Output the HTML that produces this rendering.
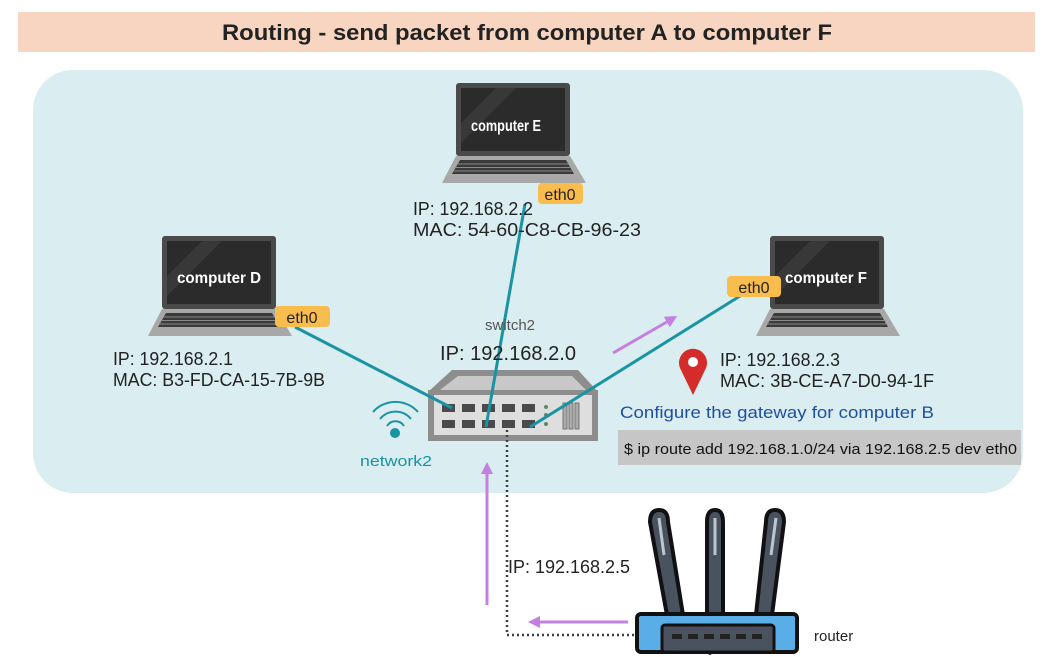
<!DOCTYPE html>
<html><head><meta charset="utf-8"><style>
html,body{margin:0;padding:0;background:#fff;width:1052px;height:657px;overflow:hidden}
svg{display:block}
text{font-family:"Liberation Sans",sans-serif}
</style></head><body>
<svg width="1052" height="657" viewBox="0 0 1052 657" xmlns="http://www.w3.org/2000/svg">
<defs>
<g id="lap">
  <rect x="0" y="0" width="114" height="73" rx="3" fill="#4a4a4a"/>
  <rect x="5" y="5" width="104" height="63" fill="#2b2b2b"/>
  <polygon points="5,40 40,5 60,5 5,60" fill="#383838"/>
  <polygon points="0,73 114,73 130,100 -14,100" fill="#a8a8a8"/>
  <polygon points="4,77 110,77 118,91 -4,91" fill="#3a3a3a"/>
  <g stroke="#8a8a8a" stroke-width="1"><line x1="2" y1="81" x2="112" y2="81"/><line x1="0" y1="84.5" x2="114" y2="84.5"/><line x1="-2" y1="88" x2="116" y2="88"/></g>
</g>
<marker id="ah" viewBox="0 0 10 10" refX="5" refY="5" markerWidth="4" markerHeight="4" orient="auto"><path d="M0,0 L10,5 L0,10 z" fill="#c47fe0"/></marker>
</defs>
<rect x="18" y="12" width="1017" height="40" fill="#f8d5c0"/>
<text x="222" y="40" font-size="22" font-weight="bold" fill="#222" textLength="610" lengthAdjust="spacingAndGlyphs">Routing - send packet from computer A to computer F</text>
<rect x="33" y="70" width="990" height="423" rx="40" fill="#daedf0"/>

<use href="#lap" x="456" y="83"/>
<text x="471" y="131" font-size="16" font-weight="bold" fill="#fff" textLength="70" lengthAdjust="spacingAndGlyphs">computer E</text>
<use href="#lap" x="162" y="236"/>
<text x="177" y="283" font-size="16" font-weight="bold" fill="#fff" textLength="84" lengthAdjust="spacingAndGlyphs">computer D</text>
<use href="#lap" x="770" y="236"/>
<text x="785" y="283" font-size="16" font-weight="bold" fill="#fff" textLength="82" lengthAdjust="spacingAndGlyphs">computer F</text>

<!-- switch -->
<polygon points="452,370 578,370 598,392 428,392" fill="#8d8d8d"/>
<polygon points="458,376 572,376 586,390 440,390" fill="#c8c8c8"/>
<rect x="428" y="390" width="170" height="51" fill="#8d8d8d"/>
<rect x="434" y="395" width="158" height="40" fill="#dedede"/>
<g fill="#4a4a4a">
<rect x="442" y="404" width="13" height="8"/><rect x="462" y="404" width="13" height="8"/><rect x="482" y="404" width="13" height="8"/><rect x="502" y="404" width="13" height="8"/><rect x="522" y="404" width="13" height="8"/>
<rect x="442" y="420" width="13" height="8"/><rect x="462" y="420" width="13" height="8"/><rect x="482" y="420" width="13" height="8"/><rect x="502" y="420" width="13" height="8"/><rect x="522" y="420" width="13" height="8"/>
</g>
<g fill="#5a8a6a"><circle cx="546" cy="407" r="2"/><circle cx="546" cy="415" r="2"/><circle cx="546" cy="424" r="2"/></g>
<g fill="#aaa" stroke="#777"><rect x="563" y="403" width="4" height="26"/><rect x="569" y="403" width="4" height="26"/><rect x="575" y="403" width="4" height="26"/></g>

<g stroke="#1a93a3" stroke-width="3" fill="none">
<line x1="295" y1="327" x2="452" y2="408"/>
<line x1="525" y1="204" x2="486" y2="427"/>
<line x1="740" y1="296" x2="530" y2="427"/>
</g>

<rect x="538" y="183" width="45" height="21" rx="4" fill="#f9bd4e"/><text x="560" y="200" text-anchor="middle" font-size="16" fill="#222">eth0</text>
<rect x="275" y="306" width="55" height="21" rx="4" fill="#f9bd4e"/><text x="302" y="323" text-anchor="middle" font-size="16" fill="#222">eth0</text>
<rect x="727" y="276" width="54" height="21" rx="4" fill="#f9bd4e"/><text x="754" y="293" text-anchor="middle" font-size="16" fill="#222">eth0</text>

<g font-size="18" fill="#222">
<text x="413" y="215" textLength="120" lengthAdjust="spacingAndGlyphs">IP: 192.168.2.2</text>
<text x="413" y="236" textLength="228" lengthAdjust="spacingAndGlyphs">MAC: 54-60-C8-CB-96-23</text>
<text x="113" y="365" textLength="120" lengthAdjust="spacingAndGlyphs">IP: 192.168.2.1</text>
<text x="113" y="386" textLength="212" lengthAdjust="spacingAndGlyphs">MAC: B3-FD-CA-15-7B-9B</text>
<text x="720" y="366" textLength="120" lengthAdjust="spacingAndGlyphs">IP: 192.168.2.3</text>
<text x="720" y="387" textLength="214" lengthAdjust="spacingAndGlyphs">MAC: 3B-CE-A7-D0-94-1F</text>
<text x="440" y="360" font-size="20" textLength="136" lengthAdjust="spacingAndGlyphs">IP: 192.168.2.0</text>
<text x="508" y="573" textLength="122" lengthAdjust="spacingAndGlyphs">IP: 192.168.2.5</text>
</g>
<text x="510" y="330" text-anchor="middle" font-size="15" fill="#555">switch2</text>
<text x="620" y="418" font-size="17" fill="#1f4fa0" textLength="314" lengthAdjust="spacingAndGlyphs">Configure the gateway for computer B</text>
<rect x="618" y="430" width="403" height="35" fill="#c6c6c6"/>
<text x="624" y="454" font-size="15" fill="#111" textLength="393" lengthAdjust="spacingAndGlyphs">$ ip route add 192.168.1.0/24 via 192.168.2.5 dev eth0</text>

<path d="M693,395 L680,368 A14,14 0 1 1 706,368 Z" fill="#d42b2b"/>
<circle cx="693" cy="362" r="5" fill="#fff"/>

<g stroke="#1a93a3" stroke-width="2" fill="none">
<path d="M373,412 A30,30 0 0 1 418,412"/><path d="M380,419 A20,20 0 0 1 411,419"/><path d="M387,426 A10,10 0 0 1 404,426"/>
</g>
<circle cx="395" cy="433" r="5" fill="#1a93a3"/>
<text x="360" y="466" font-size="15" fill="#1a93a3" textLength="72" lengthAdjust="spacingAndGlyphs">network2</text>

<g stroke="#c47fe0" stroke-width="3" fill="none">
<line x1="613" y1="353" x2="672" y2="319" marker-end="url(#ah)"/>
<line x1="487" y1="605" x2="487" y2="468" marker-end="url(#ah)"/>
<line x1="628" y1="622" x2="534" y2="622" marker-end="url(#ah)"/>
</g>
<g stroke="#3a3f4a" stroke-width="2.5" stroke-dasharray="2,3" fill="none">
<polyline points="507,430 507,635 660,635"/>
<line x1="710" y1="648" x2="710" y2="657"/>
</g>

<g stroke="#111" stroke-width="4" stroke-linejoin="round">
<path d="M650,522 Q650,510 659,510 Q668,510 668,522 L683,615 L667,615 Z" fill="#4a5260"/>
<path d="M707,522 Q707,510 715,510 Q723,510 723,522 L723,615 L707,615 Z" fill="#4a5260"/>
<path d="M766,522 Q766,510 775,510 Q784,510 784,522 L772,615 L756,615 Z" fill="#4a5260"/>
</g>
<g stroke="#b8c8d0" stroke-width="3"><line x1="659" y1="518" x2="664" y2="555"/><line x1="715" y1="518" x2="715" y2="555"/><line x1="776" y1="518" x2="771" y2="555"/></g>
<rect x="637" y="614" width="160" height="38" rx="4" fill="#5aaee8" stroke="#111" stroke-width="4"/>
<rect x="662" y="625" width="112" height="27" rx="3" fill="#4a5260" stroke="#111" stroke-width="3"/>
<g fill="#222"><rect x="672" y="634" width="10" height="5"/><rect x="688" y="634" width="10" height="5"/><rect x="704" y="634" width="10" height="5"/><rect x="720" y="634" width="10" height="5"/><rect x="736" y="634" width="10" height="5"/><rect x="752" y="634" width="10" height="5"/></g>
<text x="814" y="641" font-size="15" fill="#222">router</text>
</svg>
</body></html>
